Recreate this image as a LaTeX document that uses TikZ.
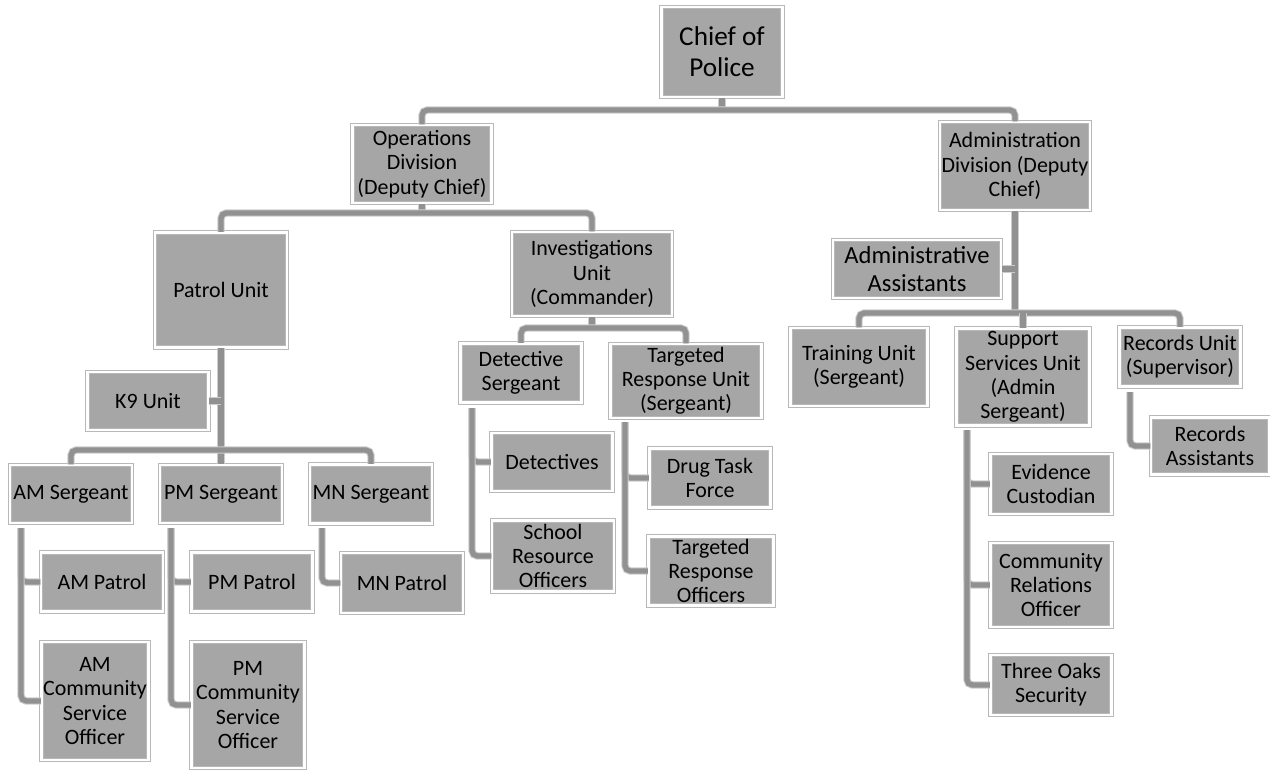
\documentclass[tikz,border=0pt]{standalone}
\usepackage{fontspec}
\setmainfont{Carlito}
\usetikzlibrary{positioning}

\tikzset{
    unit/.style={draw=black!28, line width=0.6pt, double=white, double distance=1.4pt,
        fill=black!35, align=center, inner sep=1pt,
        font=\fontsize{12.5}{13.8}\selectfont},
    sz/.style 2 args={minimum width=#1*0.02cm, minimum height=#2*0.02cm},
    link/.style={draw=black!20, line width=0.6pt, double=black!43,
        double distance=3pt, rounded corners=3pt},
}

\begin{document}
\begin{tikzpicture}[x=0.02cm, y=-0.02cm]
    \useasboundingbox (0,0) rectangle (1270,770);

    \begin{scope}[every node/.append style={unit}]
        % CHIEF AND DIVISIONS
        \node [sz={121}{90}, font=\fontsize{15.5}{17.5}\selectfont] (chief) at (722,52)
            {Chief of\\Police};
        \node [sz={139}{78}] (ops) at (422,164) {Operations\\Division\\(Deputy Chief)};
        \node [sz={150}{88}] (admin) at (1015,166)
            {Administration\\Division (Deputy\\Chief)};

        % OPERATIONS UNITS
        \node [sz={132}{115}] (patrol) at (221,290) {Patrol Unit};
        \node [sz={160}{84}] (inv) at (592,274) {Investigations\\Unit\\(Commander)};
        \node [sz={121}{58}] (k9) at (148,401) {K9 Unit};

        % PATROL SHIFTS
        \node [sz={122}{58}] (amsgt) at (71,494) {AM Sergeant};
        \node [sz={122}{58}] (pmsgt) at (221,494) {PM Sergeant};
        \node [sz={122}{59}] (mnsgt) at (371,494) {MN Sergeant};
        \node [sz={122}{59}] (ampatrol) at (102,582) {AM Patrol};
        \node [sz={107}{118}] (amcso) at (95,701) {AM\\Community\\Service\\Officer};
        \node [sz={121}{59}] (pmpatrol) at (252,582) {PM Patrol};
        \node [sz={113}{126}] (pmcso) at (248,705) {PM\\Community\\Service\\Officer};
        \node [sz={122}{60}] (mnpatrol) at (402,583) {MN Patrol};

        % INVESTIGATIONS
        \node [sz={121}{59}] (detsgt) at (521,373) {Detective\\Sergeant};
        \node [sz={151}{74}] (trusgt) at (686,381) {Targeted\\Response Unit\\(Sergeant)};
        \node [sz={121}{58}] (detectives) at (552,462) {Detectives};
        \node [sz={122}{71}] (sro) at (553,556) {School\\Resource\\Officers};
        \node [sz={121}{59}] (drug) at (710,478) {Drug Task\\Force};
        \node [sz={125}{69}] (tro) at (711,571) {Targeted\\Response\\Officers};

        % ADMINISTRATION
        \node [sz={168}{58}, font=\fontsize{14}{16}\selectfont] (admasst) at (917,269)
            {Administrative\\Assistants};
        \node [sz={137}{78}] (training) at (859,367) {Training Unit\\(Sergeant)};
        \node [sz={133}{97}] (support) at (1023,377)
            {Support\\Services Unit\\(Admin\\Sergeant)};
        \node [sz={121}{59}] (records) at (1180,357) {Records Unit\\(Supervisor)};
        \node [sz={118}{57}] (recasst) at (1210,446) {Records\\Assistants};
        \node [sz={121}{60}] (evidence) at (1051,484) {Evidence\\Custodian};
        \node [sz={121}{84}] (community) at (1051,585) {Community\\Relations\\Officer};
        \node [sz={121}{60}] (threeoaks) at (1051,685) {Three Oaks\\Security};
    \end{scope}

    % Bus and trunk points
    \coordinate (topbus) at (722,110);
    \coordinate (opsbus) at (422,213);
    \coordinate (patbus) at (221,450);
    \coordinate (invbus) at (592,328);
    \coordinate (admbus) at (1015,313);
    \coordinate (amtrunk) at (21,528);
    \coordinate (pmtrunk) at (171,528);
    \coordinate (mntrunk) at (322,528);
    \coordinate (dettrunk) at (472,408);
    \coordinate (trutrunk) at (625,422);
    \coordinate (suptrunk) at (967,430);
    \coordinate (rectrunk) at (1130,392);

    % Chief to divisions
    \draw[link] (chief) -- (topbus);
    \draw[link] (ops) |- (topbus) -| (admin);

    % Operations
    \draw[link] (ops) -- (opsbus);
    \draw[link] (patrol) |- (opsbus) -| (inv);
    \draw[link] (patrol) -- (pmsgt);
    \draw[link] (amsgt) |- (patbus) -| (mnsgt);
    \draw[link] (k9) -- (k9 -| patbus);

    % Shift sergeants to their teams
    \foreach \shift in {am, pm} {
        \draw[link] (\shift trunk) |- (\shift patrol);
        \draw[link] (\shift trunk) |- (\shift cso);
    }
    \draw[link] (mntrunk) |- (mnpatrol);

    % Investigations
    \draw[link] (inv) -- (invbus);
    \draw[link] (detsgt) |- (invbus) -| (trusgt);
    \draw[link] (dettrunk) |- (detectives);
    \draw[link] (dettrunk) |- (sro);
    \draw[link] (trutrunk) |- (drug);
    \draw[link] (trutrunk) |- (tro);

    % Administration
    \draw[link] (admin) -- (admbus);
    \draw[link] (admasst) -- (admasst -| admbus);
    \draw[link] (training) |- (admbus) -| (records);
    \draw[link] (support) -- (support |- admbus);
    \foreach \team in {evidence, community, threeoaks}
        \draw[link] (suptrunk) |- (\team);
    \draw[link] (rectrunk) |- (recasst);
\end{tikzpicture}
\end{document}
